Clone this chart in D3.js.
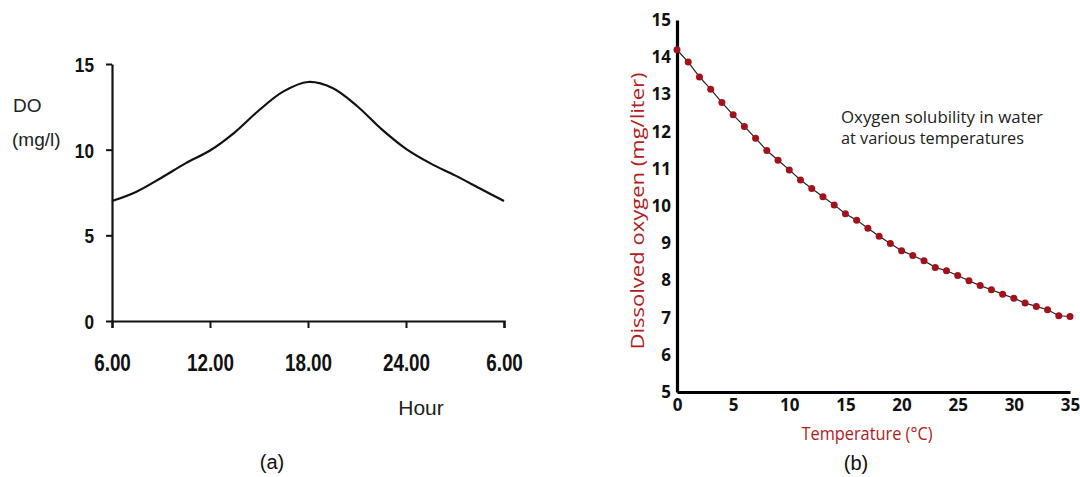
<!DOCTYPE html>
<html>
<head>
<meta charset="utf-8">
<script src="https://cdn.jsdelivr.net/npm/d3@7"></script>
<style>
  body { margin: 0; background: #fff; }
  svg { display: block; }
</style>
</head>
<body>
<svg id="chart" width="1080" height="477"></svg>
<script>
// (a) daily DO cycle
const hours = [6, 7.5, 9, 10.5, 12, 13.5, 15, 16.5, 18, 19.5, 21, 22.5, 24, 25.5, 27, 28.5, 30];
const doValues = [7.0, 7.55, 8.35, 9.2, 9.95, 11.0, 12.3, 13.4, 13.95, 13.6, 12.55, 11.2, 10.05, 9.2, 8.5, 7.75, 7.0];
const hourTicks = [6, 12, 18, 24, 30];
const hourLabels = ["6.00", "12.00", "18.00", "24.00", "6.00"];
const doTicks = [0, 5, 10, 15];

// (b) oxygen solubility vs temperature
const temps = d3.range(0, 36);
const solubility = [14.2, 13.87, 13.47, 13.14, 12.78, 12.45, 12.14, 11.82, 11.49, 11.23,
  10.97, 10.70, 10.47, 10.25, 10.03, 9.79, 9.62, 9.40, 9.19, 8.99,
  8.80, 8.67, 8.53, 8.35, 8.26, 8.13, 7.99, 7.86, 7.75, 7.63,
  7.52, 7.39, 7.30, 7.21, 7.05, 7.03];
const tempTicks = [0, 5, 10, 15, 20, 25, 30, 35];
const oxyTicks = [5, 6, 7, 8, 9, 10, 11, 12, 13, 14, 15];

const svg = d3.select("#chart");
const red = "#b3201c";

// ---------- chart (a) ----------
const xa = d3.scaleLinear().domain([6, 30]).range([112, 504]);
const ya = d3.scaleLinear().domain([0, 15]).range([321, 64]);
const arial = "'Liberation Sans', Arial, sans-serif";

const gaX = svg.append("g").attr("transform", `translate(0,${ya(0)})`)
  .call(d3.axisBottom(xa).tickValues(hourTicks).tickSize(7).tickSizeOuter(7)
    .tickFormat((d, i) => hourLabels[i]).tickPadding(27));
const gaY = svg.append("g").attr("transform", `translate(${xa(6)},0)`)
  .call(d3.axisLeft(ya).tickValues(doTicks).tickSize(6).tickSizeOuter(0).tickPadding(16));

[gaX, gaY].forEach(g => {
  g.select(".domain").attr("stroke", "#111").attr("stroke-width", 2.2);
  g.selectAll(".tick line").attr("stroke", "#111").attr("stroke-width", 2);
  // condensed bold look: squeeze the glyphs horizontally
  g.selectAll("text").attr("fill", "#111").attr("transform", "scale(0.82,1)")
    .style("font-family", arial).style("font-weight", "bold");
});
gaX.selectAll("text").style("font-size", "23px");
gaY.selectAll("text").style("font-size", "21px").attr("dy", "0.36em");

svg.append("path")
  .datum(hours.map((h, i) => [h, doValues[i]]))
  .attr("fill", "none").attr("stroke", "#111").attr("stroke-width", 2.2)
  .attr("d", d3.line().x(d => xa(d[0])).y(d => ya(d[1])).curve(d3.curveCatmullRom));

svg.append("text").attr("x", 13).attr("y", 112)
  .style("font-family", arial).style("font-size", "19px")
  .attr("fill", "#222").text("DO");
svg.append("text").attr("x", 12).attr("y", 146)
  .style("font-family", arial).style("font-size", "19px")
  .attr("fill", "#222").text("(mg/l)");
svg.append("text").attr("x", 421).attr("y", 415).attr("text-anchor", "middle")
  .style("font-family", arial).style("font-size", "21px")
  .attr("fill", "#222").text("Hour");
svg.append("text").attr("x", 272).attr("y", 469).attr("text-anchor", "middle")
  .style("font-family", arial).style("font-size", "20px")
  .attr("fill", "#111").text("(a)");

// ---------- chart (b) ----------
const xb = d3.scaleLinear().domain([0, 35]).range([677, 1070]);
const yb = d3.scaleLinear().domain([5, 15]).range([392, 20]);
const sans = "'Open Sans', 'Noto Sans', sans-serif";

const gbX = svg.append("g").attr("transform", `translate(0,${yb(5)})`)
  .call(d3.axisBottom(xb).tickValues(tempTicks).tickSize(0).tickPadding(7));
const gbY = svg.append("g").attr("transform", `translate(${xb(0)},0)`)
  .call(d3.axisLeft(yb).tickValues(oxyTicks).tickSize(0).tickPadding(6));

[gbX, gbY].forEach(g => {
  g.select(".domain").attr("stroke", "#000").attr("stroke-width", 3.2);
  g.selectAll("text").attr("fill", "#111").style("font-family", sans)
    .style("font-size", "17px").style("font-weight", "bold");
});

svg.append("path")
  .datum(temps.map((t, i) => [t, solubility[i]]))
  .attr("fill", "none").attr("stroke", "#222").attr("stroke-width", 1.2)
  .attr("d", d3.line().x(d => xb(d[0])).y(d => yb(d[1])));

svg.append("g").selectAll("circle")
  .data(temps.map((t, i) => [t, solubility[i]]))
  .join("circle")
  .attr("cx", d => xb(d[0])).attr("cy", d => yb(d[1])).attr("r", 3.5)
  .attr("fill", "#a3121a");

svg.append("text")
  .attr("transform", "translate(644,211) rotate(-90)").attr("text-anchor", "middle")
  .attr("textLength", 277).attr("lengthAdjust", "spacingAndGlyphs")
  .style("font-family", sans).style("font-size", "19px").attr("fill", red)
  .text("Dissolved oxygen (mg/liter)");
svg.append("text").attr("x", 867).attr("y", 440).attr("text-anchor", "middle")
  .attr("textLength", 131).attr("lengthAdjust", "spacingAndGlyphs")
  .style("font-family", sans).style("font-size", "18px").attr("fill", red)
  .text("Temperature (°C)");

// two-line note, drawn as separate texts so their boxes do not overlap
svg.append("text").attr("x", 841).attr("y", 123)
  .attr("textLength", 202).attr("lengthAdjust", "spacingAndGlyphs")
  .style("font-family", sans).style("font-size", "16px").attr("fill", "#222")
  .text("Oxygen solubility in water");
svg.append("text").attr("x", 841).attr("y", 144)
  .attr("textLength", 183).attr("lengthAdjust", "spacingAndGlyphs")
  .style("font-family", sans).style("font-size", "16px").attr("fill", "#222")
  .text("at various temperatures");

svg.append("text").attr("x", 856).attr("y", 470).attr("text-anchor", "middle")
  .style("font-family", arial).style("font-size", "20px")
  .attr("fill", "#111").text("(b)");
</script>
</body>
</html>
